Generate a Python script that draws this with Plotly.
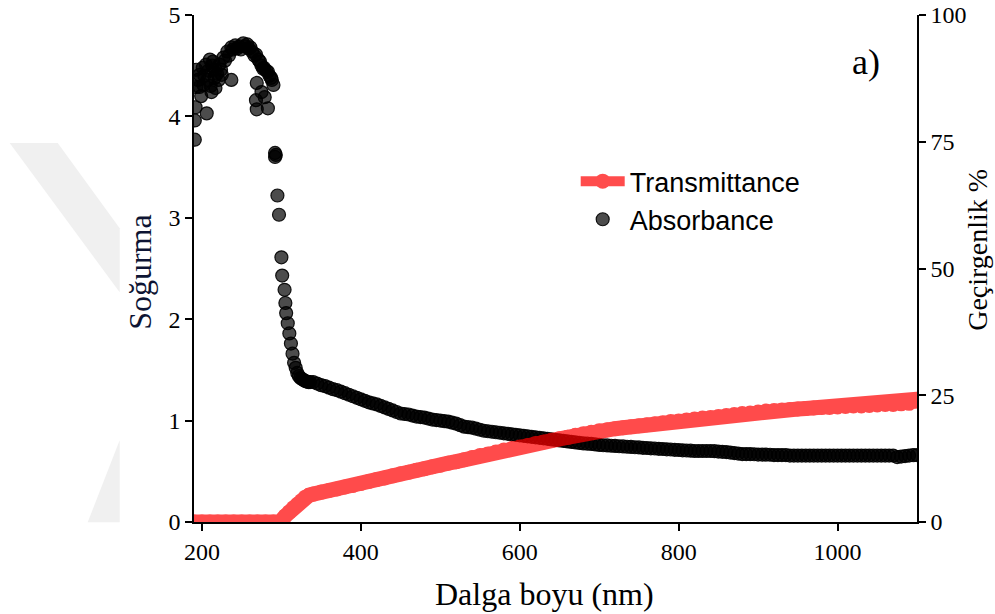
import plotly.graph_objects as go

# ---------------- data ----------------
# Absorbance: scattered / steep UV region (nm, absorbance)
abs_nm_uv = [191, 191, 192, 193, 193, 195, 197, 197, 199, 201, 202, 203, 205, 206, 207,
             208, 210, 211, 212, 213, 214, 216, 217, 217, 219, 221, 222, 224, 225, 227,
             229, 232, 234, 237, 237, 239, 242, 244, 247, 249, 252, 254, 257, 259, 261,
             263, 266, 268, 268, 269, 269, 271, 273, 275, 275, 277, 278, 279, 281, 283,
             283, 285, 287, 288, 290, 292, 292, 293, 295, 297, 300, 301, 304, 305, 306,
             308, 310, 312, 314, 316, 318, 320, 322, 324, 326, 328, 330, 332, 334, 336]
abs_uv = [3.77, 3.96, 4.09, 4.29, 4.46, 4.36, 4.41, 4.29, 4.20, 4.48, 4.31, 4.40, 4.51, 4.03, 4.36,
          4.45, 4.56, 4.30, 4.24, 4.50, 4.54, 4.38, 4.46, 4.28, 4.42, 4.36, 4.51, 4.46, 4.41, 4.58,
          4.55, 4.64, 4.60, 4.68, 4.36, 4.66, 4.70, 4.67, 4.69, 4.66, 4.72, 4.69, 4.71, 4.67, 4.68,
          4.64, 4.60, 4.61, 4.16, 4.33, 4.07, 4.56, 4.54, 4.50, 4.24, 4.47, 4.48, 4.19, 4.45, 4.44,
          4.08, 4.40, 4.38, 4.36, 4.31, 3.64, 3.60, 3.62, 3.22, 3.03, 2.61, 2.43, 2.29, 2.16, 2.06,
          1.96, 1.86, 1.76, 1.66, 1.57, 1.52, 1.47, 1.44, 1.42, 1.41, 1.40, 1.39, 1.385, 1.38, 1.38]

# Absorbance: smooth visible / NIR region, 340..1100 nm every 5 nm
abs_nm_vis = list(range(340, 1101, 5))
abs_vis = [1.38, 1.365, 1.35, 1.34, 1.325, 1.31, 1.30, 1.285, 1.27, 1.255, 1.24, 1.225,
           1.21, 1.195, 1.18, 1.17, 1.16, 1.145, 1.13, 1.115, 1.10, 1.085, 1.07, 1.065,
           1.06, 1.05, 1.04, 1.035, 1.03, 1.02, 1.01, 1.005, 1.00, 0.995, 0.99, 0.98,
           0.97, 0.955, 0.94, 0.935, 0.93, 0.92, 0.91, 0.90, 0.895, 0.89, 0.885, 0.88,
           0.875, 0.87, 0.865, 0.86, 0.855, 0.85, 0.845, 0.84, 0.835, 0.83, 0.825, 0.82,
           0.815, 0.81, 0.805, 0.80, 0.795, 0.79, 0.785, 0.78, 0.775, 0.772, 0.77, 0.765,
           0.76, 0.757, 0.755, 0.752, 0.75, 0.747, 0.745, 0.742, 0.74, 0.737, 0.735, 0.732,
           0.73, 0.727, 0.725, 0.722, 0.72, 0.717, 0.715, 0.712, 0.71, 0.707, 0.705, 0.703,
           0.70, 0.70, 0.70, 0.70, 0.70, 0.698, 0.695, 0.692, 0.69, 0.685, 0.68, 0.675,
           0.67, 0.67, 0.67, 0.668, 0.665, 0.665, 0.665, 0.663, 0.66, 0.66, 0.66, 0.66,
           0.655, 0.655, 0.655, 0.655, 0.655, 0.655, 0.655, 0.655, 0.655, 0.655, 0.655, 0.655,
           0.655, 0.655, 0.655, 0.655, 0.655, 0.655, 0.655, 0.655, 0.655, 0.655, 0.655, 0.655,
           0.655, 0.655, 0.655, 0.64, 0.645, 0.65, 0.655, 0.66, 0.66]

# Transmittance (%)
trans_nm = [190, 200, 210, 220, 230, 240, 250, 260, 270, 280, 290, 298, 305, 310, 315,
            320, 325, 330, 335, 340, 350, 360, 370, 380, 390, 400, 410, 420, 430, 440,
            450, 460, 470, 480, 490, 500, 510, 520, 530, 540, 550, 560, 570, 580, 590,
            600, 610, 620, 630, 640, 650, 660, 670, 680, 690, 700, 710, 720, 730, 740,
            750, 760, 770, 780, 790, 800, 810, 820, 830, 840, 850, 860, 870, 880, 890,
            900, 910, 920, 930, 940, 950, 960, 970, 980, 990, 1000, 1010, 1020, 1030, 1040,
            1050, 1060, 1070, 1080, 1090, 1097, 1100]
trans = [0, 0, 0, 0, 0, 0, 0, 0, 0, 0, 0, 0, 1.2, 2.0, 2.8,
         3.5, 4.2, 4.9, 5.3, 5.5, 5.9, 6.2, 6.5, 6.9, 7.2, 7.6, 8.0, 8.4, 8.7, 9.1,
         9.5, 9.8, 10.2, 10.5, 10.9, 11.2, 11.6, 11.9, 12.3, 12.7, 13.1, 13.4, 13.8, 14.2, 14.5,
         14.8, 15.1, 15.5, 15.8, 16.1, 16.4, 16.7, 17.1, 17.4, 17.7, 18.0, 18.2, 18.4, 18.6, 18.8,
         19.0, 19.2, 19.4, 19.6, 19.8, 19.9, 20.1, 20.3, 20.5, 20.6, 20.8, 21.0, 21.2, 21.4, 21.5,
         21.7, 21.9, 22.0, 22.1, 22.2, 22.3, 22.4, 22.5, 22.6, 22.6, 22.7, 22.8, 22.9, 22.9, 23.0,
         23.1, 23.2, 23.2, 23.3, 23.4, 23.8, 24.2]

x_ticks = [200, 400, 600, 800, 1000]
y_left_ticks = [0, 1, 2, 3, 4, 5]
y_right_ticks = [0, 25, 50, 75, 100]

# ---------------- figure ----------------
W, H = 995, 614
PL, PT, PWID, PHGT = 194.3, 15.0, 723.0, 506.7   # plot area in page pixels
ML = round(PL)
MT = round(PT)
MR = W - ML - round(PWID)
MB = H - MT - round(PHGT)


def px2paper(px, py):
    return (px - PL) / PWID, (PT + PHGT - py) / PHGT


fig = go.Figure()

fig.add_trace(go.Scatter(
    x=trans_nm, y=trans, yaxis="y2", name="Transmittance",
    mode="lines+markers",
    line=dict(color="#ff0000", width=15),
    marker=dict(color="#ff0000", size=15, symbol="circle"),
    opacity=0.7,
))

fig.add_trace(go.Scatter(
    x=abs_nm_uv + abs_nm_vis, y=abs_uv + abs_vis, name="Absorbance",
    mode="markers",
    marker=dict(color="rgba(0,0,0,0.7)", size=13,
                line=dict(color="rgba(0,0,0,0.9)", width=1.2)),
))

serif = "Liberation Serif, Times New Roman, serif"
sans = "Liberation Sans, Arial, sans-serif"

axis_common = dict(
    showline=True, linecolor="black", linewidth=1.5,
    ticks="outside", ticklen=7, tickwidth=1.5, tickcolor="black",
    showgrid=False, zeroline=False, automargin=False,
    ticklabeloverflow="allow",
    tickfont=dict(family=serif, size=24, color="black"),
)

# watermark shapes (light gray)
wm_upper = [(10, 143), (58, 143), (120, 228), (120, 292)]
wm_lower = [(88, 522), (120, 440), (120, 522)]
shapes = []
for poly in (wm_upper, wm_lower):
    pts = [px2paper(a, b) for a, b in poly]
    path = "M " + " L ".join(f"{a:.4f},{b:.4f}" for a, b in pts) + " Z"
    shapes.append(dict(type="path", xref="paper", yref="paper", path=path,
                       fillcolor="#f0f0f0", line=dict(width=0), layer="below"))

ax_x, ax_y = px2paper(545, 594)
sl_x, sl_y = px2paper(140, 272)
sr_x, sr_y = px2paper(977, 250)
a_x, a_y = px2paper(866, 62)
lg_x, lg_y = px2paper(576, 157)

fig.update_layout(
    width=W, height=H,
    margin=dict(l=ML, r=MR, t=MT, b=MB, autoexpand=False),
    paper_bgcolor="white", plot_bgcolor="white",
    xaxis=dict(range=[190, 1100], tickvals=x_ticks, **axis_common),
    yaxis=dict(range=[0, 5], tickvals=y_left_ticks, **axis_common),
    yaxis2=dict(range=[0, 100], tickvals=y_right_ticks, overlaying="y", side="right",
                **axis_common),
    showlegend=True,
    legend=dict(x=lg_x, y=lg_y, xanchor="left", yanchor="top",
                bgcolor="rgba(0,0,0,0)", itemwidth=44,
                font=dict(family=sans, size=27, color="black"),
                tracegroupgap=0),
    shapes=shapes,
    annotations=[
        dict(text="Dalga boyu (nm)", x=ax_x, y=ax_y, xref="paper", yref="paper",
             showarrow=False, xanchor="center", yanchor="middle",
             font=dict(family=serif, size=32, color="black")),
        dict(text="Soğurma", x=sl_x, y=sl_y, xref="paper", yref="paper",
             showarrow=False, textangle=-90, xanchor="center", yanchor="middle",
             font=dict(family=serif, size=32, color="#0d1433")),
        dict(text="Geçirgenlik %", x=sr_x, y=sr_y, xref="paper", yref="paper",
             showarrow=False, textangle=-90, xanchor="center", yanchor="middle",
             font=dict(family=serif, size=28, color="black")),
        dict(text="a)", x=a_x, y=a_y, xref="paper", yref="paper",
             showarrow=False, xanchor="center", yanchor="middle",
             font=dict(family=serif, size=36, color="black")),
    ],
)

fig.write_html("out.html",
               config={"displayModeBar": False},
               post_script="document.body.style.margin='0';document.body.style.overflow='hidden';")
